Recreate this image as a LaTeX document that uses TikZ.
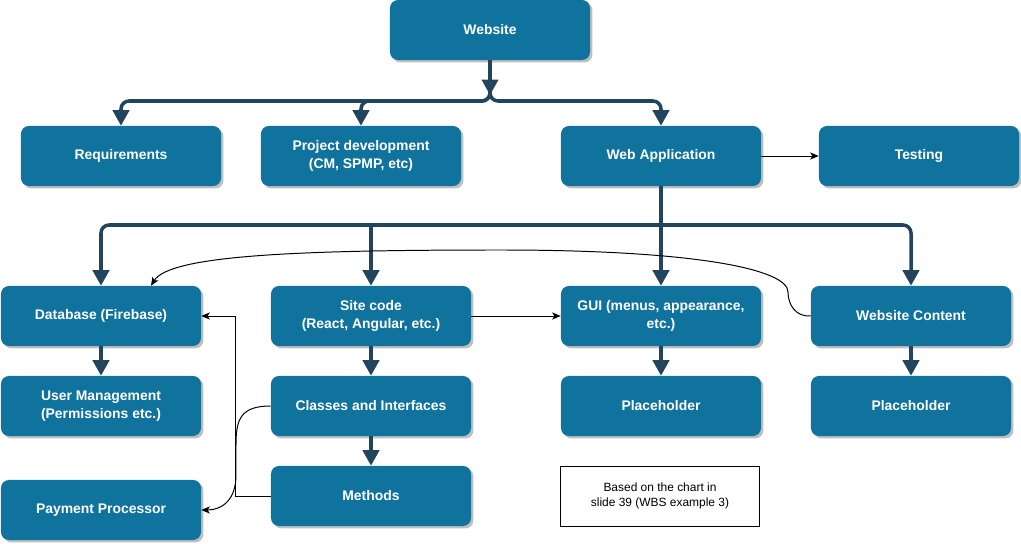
\documentclass[tikz,border=0pt]{standalone}
\usepackage{fontspec}
\setmainfont{Liberation Sans}
\usetikzlibrary{shapes,arrows.meta,positioning,shadows}
\definecolor{wbsblue}{HTML}{10739E}
\definecolor{wbsdark}{HTML}{23445D}
\tikzstyle{wbox} = [rectangle, rounded corners=0.2cm, fill=wbsblue, text=white, font=\fontsize{9.9}{12.4}\selectfont\bfseries, align=center, minimum width=5cm, minimum height=1.5cm, inner sep=2pt, drop shadow={shadow xshift=0.06cm, shadow yshift=-0.06cm, fill=black!25, opacity=1}]
\tikzstyle{note} = [rectangle, draw=black, line width=0.7pt, fill=white, font=\fontsize{8.5}{10.6}\selectfont, align=center, minimum width=4.95cm, minimum height=1.5cm]
\tikzstyle{tree} = [draw=wbsdark, line width=2.5pt, rounded corners=0.2cm, -{Triangle[length=11pt,width=11.5pt]}]
\tikzstyle{link} = [draw, line width=0.7pt, -{Stealth[length=6pt,width=5pt,inset=1.5pt]}]

\begin{document}
\begin{tikzpicture}[x=0.025cm, y=-0.025cm]
			\useasboundingbox (0,0) rectangle (1021,544);
			\node [wbox] (website) at (490, 30) {Website};
			\node [wbox] (req) at (121, 156) {Requirements};
			\node [wbox] (proj) at (361, 156) {Project development\\(CM, SPMP, etc)};
			\node [wbox] (webapp) at (661, 156) {Web Application};
			\node [wbox] (test) at (919, 156) {Testing};
			\node [wbox] (db) at (101, 316) {Database (Firebase)};
			\node [wbox] (site) at (371, 316) {Site code\\(React, Angular, etc.)};
			\node [wbox] (gui) at (661, 316) {GUI (menus, appearance,\\etc.)};
			\node [wbox] (content) at (911, 316) {Website Content};
			\node [wbox] (user) at (101, 406) {User Management\\(Permissions etc.)};
			\node [wbox] (classes) at (371, 406) {Classes and Interfaces};
			\node [wbox] (holder1) at (661, 406) {Placeholder};
			\node [wbox] (holder2) at (911, 406) {Placeholder};
			\node [wbox] (methods) at (371, 496) {Methods};
			\node [wbox] (pay) at (101, 510) {Payment Processor};
			\node [note] (basis) at (660, 496) {Based on the chart in\\slide 39 (WBS example 3)};
			\coordinate (split) at (490, 95);
			\coordinate (hub) at (661, 225);
			
			\path [tree] (website) -- (split);
			\path [tree] (website.south) -- (490, 101) -| (req);
			\path [tree] (website.south) -- (490, 101) -| (proj);
			\path [tree] (website.south) -- (490, 101) -| (webapp);
			\path [tree] (webapp) -- (gui);
			\path [tree] (hub) -| (db);
			\path [tree, sharp corners] (hub) -| (site);
			\path [tree] (hub) -| (content);
			\path [tree] (db) -- (user);
			\path [tree] (site) -- (classes);
			\path [tree] (classes) -- (methods);
			\path [tree] (gui) -- (holder1);
			\path [tree] (content) -- (holder2);
			
			\path [link] (webapp) -- (test);
			\path [link] (site) -- (gui);
			\path [link] (methods.west) -- ++(-35, 0) |- (db.east);
			\path [link] (classes.west) .. controls (240, 406) and (236, 420) .. (236, 445) -- (236, 475) .. controls (236, 500) and (222, 510) .. (pay.east);
			\path [link] (content.west) .. controls (796, 317) and (788, 305) .. (788, 292) .. controls (788, 270) and (700, 250) .. (500, 250) .. controls (300, 250) and (170, 255) .. ([xshift=1.25cm]db.north);
		\end{tikzpicture}
\end{document}
